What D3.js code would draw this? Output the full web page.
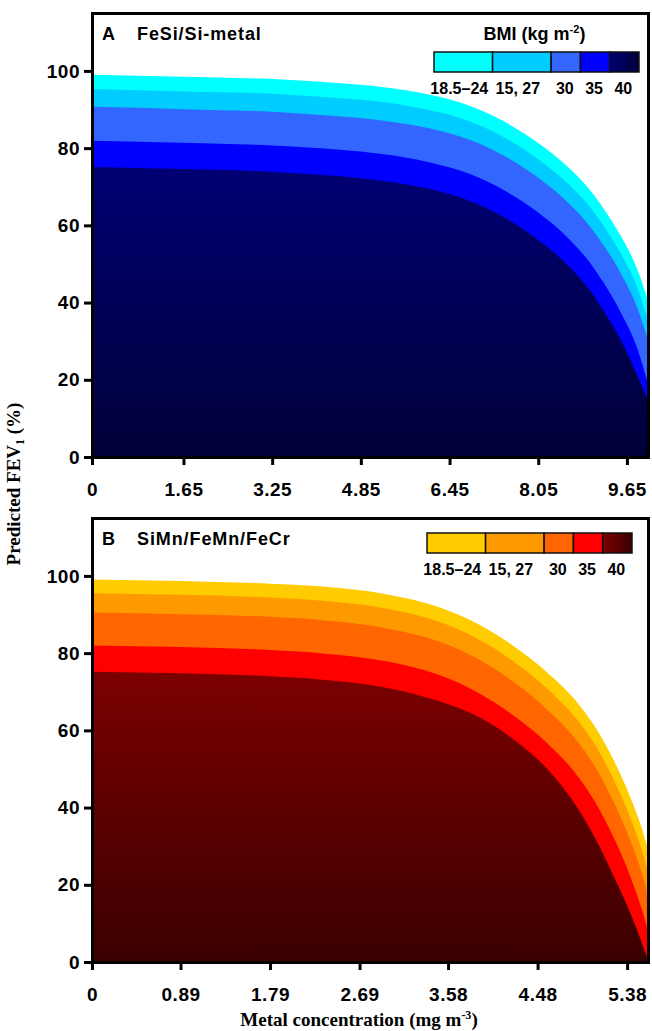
<!DOCTYPE html>
<html>
<head>
<meta charset="utf-8">
<script src="https://cdn.jsdelivr.net/npm/d3@7"></script>
<style>
  body { margin: 0; background: #fff; }
  svg { display: block; }
</style>
</head>
<body>
<script>
// BMI groups shown in the legends (lowest-risk band first)
const bmiLabels = ["18.5–24", "15, 27", "30", "35", "40"];
const bmiWeights = [2, 2, 1, 1, 1];

const yTicks = [0, 20, 40, 60, 80, 100];
const xTicksA = [0, 1.65, 3.25, 4.85, 6.45, 8.05, 9.65];
const xTicksB = [0, 0.89, 1.79, 2.69, 3.58, 4.48, 5.38];

// Panel A: FeSi/Si-metal — metal concentration (mg m-3) and predicted FEV1 (%) per BMI group
const concA   = [0, 1.65, 3.25, 4.12, 4.85, 5.6, 6.1, 6.82, 7.42, 8.03, 8.63, 8.99, 9.22, 9.53, 9.84, 10.03];
const fevA_18 = [99.0, 98.5, 97.9, 97.2, 96.4, 95.1, 93.8, 90.9, 87.0, 81.5, 74.5, 69.0, 64.5, 57.5, 48.5, 40.5];
const fevA_27 = [95.3, 94.7, 94.1, 93.3, 92.5, 91.2, 89.8, 86.9, 82.9, 77.3, 70.2, 64.6, 60.0, 52.9, 43.7, 35.5];
const fevA_30 = [90.7, 90.1, 89.4, 88.6, 87.8, 86.4, 85.1, 82.1, 78.1, 72.5, 65.3, 59.6, 55.0, 47.8, 38.5, 30.2];
const fevA_35 = [81.9, 81.4, 80.7, 80.0, 79.1, 77.7, 76.3, 73.3, 69.2, 63.5, 56.1, 50.2, 45.3, 37.7, 28.0, 19.0];
const fevA_40 = [75.1, 74.6, 73.9, 73.1, 72.2, 70.8, 69.4, 66.3, 62.2, 56.4, 49.0, 43.0, 38.0, 30.5, 21.0, 14.5];

// Panel B: SiMn/FeMn/FeCr
const concB   = [0, 0.89, 1.79, 2.29, 2.97, 3.47, 3.90, 4.23, 4.58, 4.91, 5.08, 5.24, 5.41, 5.54, 5.59];
const fevB_18 = [99.1, 98.7, 98.0, 97.3, 95.2, 92.1, 87.3, 82.0, 74.9, 66.2, 60.0, 52.5, 42.8, 33.6, 29.0];
const fevB_27 = [95.5, 95.1, 94.4, 93.6, 91.5, 88.3, 83.4, 78.0, 70.7, 61.7, 55.3, 47.5, 37.5, 28.0, 23.2];
const fevB_30 = [90.5, 90.1, 89.4, 88.6, 86.4, 83.2, 78.2, 72.7, 65.3, 56.2, 49.6, 41.7, 31.6, 22.0, 17.0];
const fevB_35 = [82.0, 81.6, 80.8, 80.0, 77.8, 74.5, 69.5, 64.0, 56.6, 47.2, 40.5, 32.5, 22.3, 12.6, 8.0];
const fevB_40 = [75.2, 74.8, 74.0, 73.2, 71.0, 67.7, 63.3, 57.8, 49.9, 38.7, 31.0, 22.5, 12.8, 4.1, 0.5];

const coloursA = ["#00ffff", "#00ccff", "#3366ff", "#0000ff"];
const darkA = ["#000074", "#000038"];
const coloursB = ["#ffcc00", "#ff9900", "#ff6600", "#ff0000"];
const darkB = ["#7c0000", "#3a0000"];

const W = 652, H = 1031;
const svg = d3.select("body").append("svg").attr("width", W).attr("height", H);
const defs = svg.append("defs");

const tickFont = "'Liberation Sans', Arial, sans-serif";
const titleFont = "'Liberation Serif', 'Times New Roman', serif";

function drawPanel(cfg) {
  const left = 92, right = 648, top = 13 + cfg.dy, bottom = 457 + cfg.dy;
  const x = d3.scaleLinear().domain([0, cfg.xMax]).range([left, right]);
  const y = d3.scaleLinear().domain([0, 115]).range([bottom, top]);
  const g = svg.append("g");

  // vertical shading for the highest-BMI band
  const gid = "dark" + cfg.id;
  const lg = defs.append("linearGradient").attr("id", gid)
    .attr("gradientUnits", "userSpaceOnUse")
    .attr("x1", 0).attr("x2", 0).attr("y1", y(76)).attr("y2", y(0));
  lg.append("stop").attr("offset", 0).attr("stop-color", cfg.dark[0]);
  lg.append("stop").attr("offset", 1).attr("stop-color", cfg.dark[1]);

  const cid = "clip" + cfg.id;
  defs.append("clipPath").attr("id", cid)
    .append("rect").attr("x", left).attr("y", top).attr("width", right - left).attr("height", bottom - top);

  const fills = cfg.colours.concat([`url(#${gid})`]);
  const area = d3.area()
    .x((d, i) => x(cfg.conc[i]))
    .y0(y(0))
    .y1(d => y(d))
    .curve(d3.curveMonotoneX);

  g.append("g").attr("clip-path", `url(#${cid})`)
    .selectAll("path").data(cfg.series).join("path")
    .attr("d", d => area(d))
    .attr("fill", (d, i) => fills[i]);

  // frame
  g.append("rect")
    .attr("x", left + 0.5).attr("y", top + 0.5)
    .attr("width", right - left).attr("height", bottom - top)
    .attr("fill", "none").attr("stroke", "#000").attr("stroke-width", 3);

  // axes
  const yAxis = g.append("g").attr("transform", `translate(${left},0)`)
    .call(d3.axisLeft(y).tickValues(yTicks).tickSize(8).tickPadding(4));
  const xAxis = g.append("g").attr("transform", `translate(0,${bottom})`)
    .call(d3.axisBottom(x).tickValues(cfg.xTicks).tickFormat(d => String(d)).tickSize(8).tickPadding(18));
  [yAxis, xAxis].forEach(a => {
    a.select(".domain").remove();
    a.selectAll(".tick line").attr("stroke", "#000").attr("stroke-width", 3);
    a.selectAll(".tick text")
      .attr("fill", "#000")
      .style("font-family", tickFont).style("font-weight", "bold")
      .style("font-size", "19px").style("letter-spacing", "0.5px");
  });

  // panel heading
  const head = g.append("text").attr("y", top + 27)
    .style("font-family", tickFont).style("font-weight", "bold")
    .style("font-size", "18px").attr("fill", "#000");
  head.append("tspan").attr("x", left + 10).text(cfg.letter);
  head.append("tspan").attr("x", left + 45).style("letter-spacing", "0.9px").text(cfg.title);

  // legend colour bar
  const lx0 = cfg.legendX, lw = 205, ly = top + cfg.legendY, lh = 20;
  const total = d3.sum(bmiWeights);
  const edges = [0];
  bmiWeights.forEach(w => edges.push(edges[edges.length - 1] + w));
  const lx = d3.scaleLinear().domain([0, total]).range([lx0, lx0 + lw]);

  const hid = "legdark" + cfg.id;
  const hg = defs.append("linearGradient").attr("id", hid);
  hg.append("stop").attr("offset", 0).attr("stop-color", cfg.dark[0]);
  hg.append("stop").attr("offset", 1).attr("stop-color", cfg.dark[1]);
  const legFills = cfg.colours.concat([`url(#${hid})`]);

  const leg = g.append("g");
  leg.selectAll("rect").data(bmiLabels).join("rect")
    .attr("x", (d, i) => lx(edges[i]))
    .attr("y", ly)
    .attr("width", (d, i) => lx(edges[i + 1]) - lx(edges[i]))
    .attr("height", lh)
    .attr("fill", (d, i) => legFills[i])
    .attr("stroke", "#111").attr("stroke-width", 1.5);
  leg.selectAll("text").data(bmiLabels).join("text")
    .attr("x", (d, i) => (lx(edges[i]) + lx(edges[i + 1])) / 2 - (i < 2 ? 4 : 1))
    .attr("y", ly + lh + 22)
    .attr("text-anchor", "middle")
    .style("font-family", tickFont).style("font-weight", "bold").style("font-size", "16px")
    .attr("fill", "#000")
    .text(d => d);

  if (cfg.legendTitle) {
    const t = g.append("text").attr("x", lx0 + lw / 2 - 2).attr("y", top + 27)
      .attr("text-anchor", "middle")
      .style("font-family", tickFont).style("font-weight", "bold").style("font-size", "18px")
      .attr("fill", "#000");
    t.append("tspan").text("BMI (kg m");
    t.append("tspan").attr("dy", -7).style("font-size", "11px").text("-2");
    t.append("tspan").attr("dy", 7).text(")");
  }
}

drawPanel({
  id: "A", dy: 0, xMax: 10.03, conc: concA, xTicks: xTicksA,
  series: [fevA_18, fevA_27, fevA_30, fevA_35, fevA_40],
  colours: coloursA, dark: darkA,
  letter: "A", title: "FeSi/Si-metal",
  legendX: 434, legendY: 39, legendTitle: true
});

drawPanel({
  id: "B", dy: 505, xMax: 5.59, conc: concB, xTicks: xTicksB,
  series: [fevB_18, fevB_27, fevB_30, fevB_35, fevB_40],
  colours: coloursB, dark: darkB,
  letter: "B", title: "SiMn/FeMn/FeCr",
  legendX: 427, legendY: 15, legendTitle: false
});

// shared axis titles
const yt = svg.append("text")
  .attr("transform", "translate(20,484) rotate(-90)")
  .attr("text-anchor", "middle")
  .style("font-family", titleFont).style("font-weight", "bold").style("font-size", "19px")
  .attr("fill", "#000");
yt.append("tspan").text("Predicted FEV");
yt.append("tspan").attr("dy", 4).style("font-size", "12px").text("1");
yt.append("tspan").attr("dy", -4).text(" (%)");

const xt = svg.append("text")
  .attr("x", 359).attr("y", 1026)
  .attr("text-anchor", "middle")
  .style("font-family", titleFont).style("font-weight", "bold").style("font-size", "19px")
  .attr("fill", "#000");
xt.append("tspan").text("Metal concentration (mg m");
xt.append("tspan").attr("dy", -7).style("font-size", "12px").text("-3");
xt.append("tspan").attr("dy", 7).text(")");
</script>
</body>
</html>
